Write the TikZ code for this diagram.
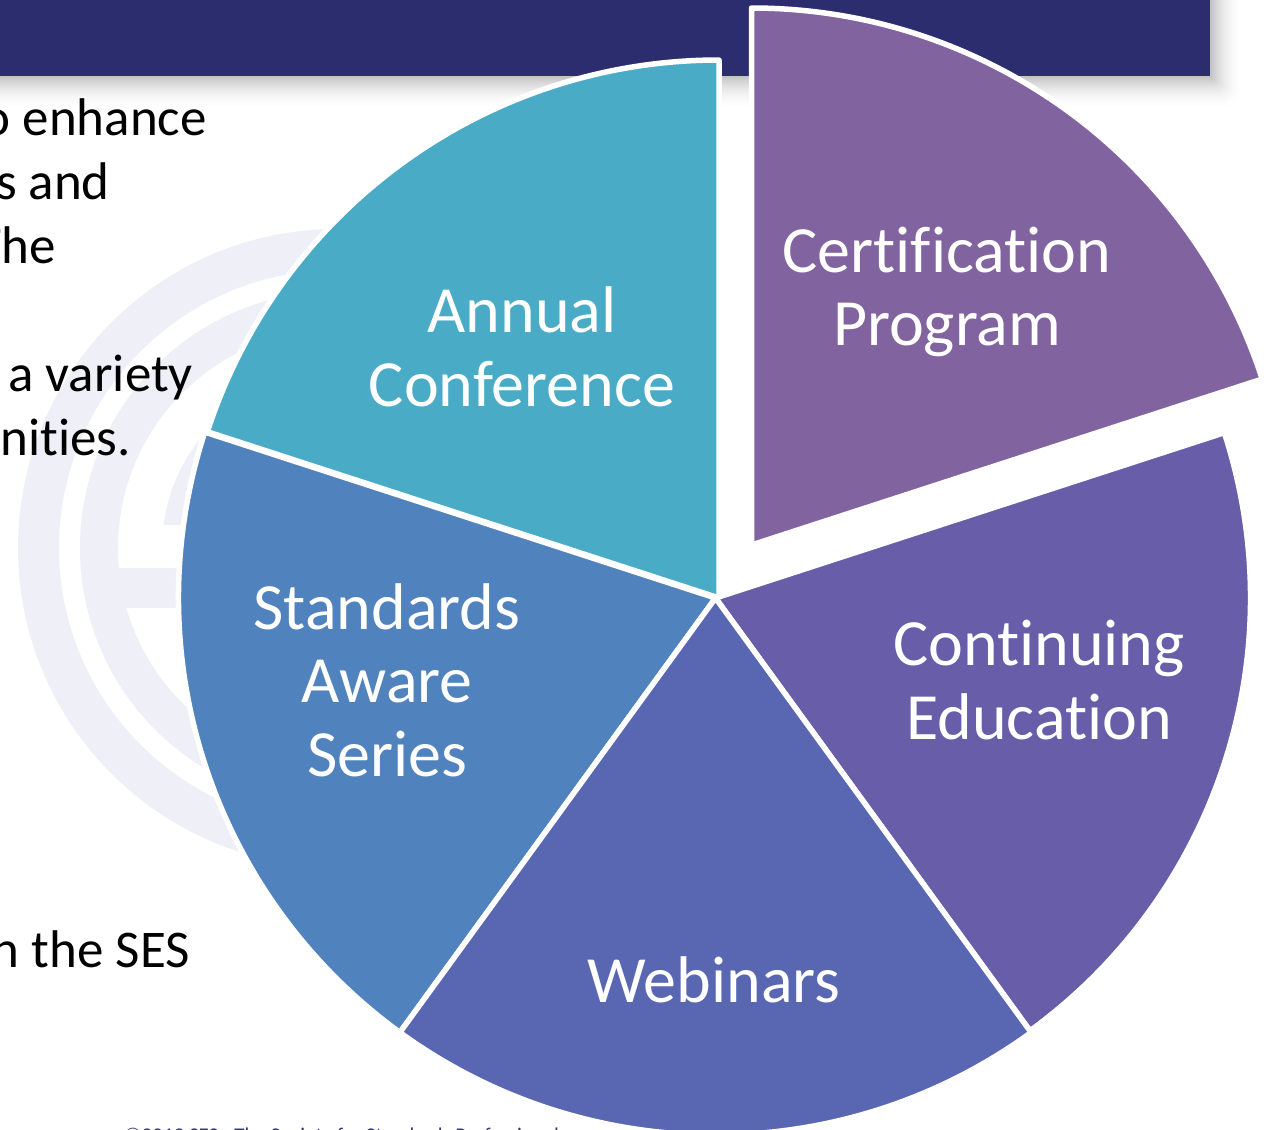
\documentclass[tikz,border=0pt]{standalone}
\usepackage{fontspec}
\setmainfont{Carlito}[Ligatures=NoCommon]
\definecolor{barnavy}{HTML}{2B2D6F}
\definecolor{markc}{HTML}{EFEFF7}
\definecolor{certc}{HTML}{81649F}
\definecolor{contc}{HTML}{675DA9}
\definecolor{webc}{HTML}{5967B3}
\definecolor{stdc}{HTML}{5083BD}
\definecolor{annc}{HTML}{4AABC6}
\definecolor{footc}{HTML}{3A3A6A}
\newcommand{\pieslice}[5]{% colour, cx, cy, start angle (math, flipped), radius
  \path[sliceedge,fill=#1] (#2,#3) -- ++(#4:#5pt) arc[start angle=#4,delta angle=72,radius=#5pt] -- cycle;}
\tikzset{
  sliceedge/.style={draw=white,line width=5.5pt,line join=round},
  slicelabel/.style={text=white,align=center,font=\fontsize{66}{73.5}\selectfont,inner sep=0pt},
  bodytext/.style={text=black,anchor=base east,font=\fontsize{53}{58}\selectfont,inner sep=0pt},
  footertext/.style={text=footc,anchor=base west,font=\fontsize{21}{24}\selectfont,inner sep=0pt}
}
\begin{document}
\begin{tikzpicture}[x=1pt,y=1pt,yscale=-1]
\clip (0,0) rectangle (1264,1130);
\fill[white] (0,0) rectangle (1264,1130);
% header shadow
\foreach \i in {16,15,...,0}{
  \pgfmathsetmacro{\c}{26*(1-\i/17)*(1-\i/17)}
  \fill[black!\c!white,rounded corners=\i*1pt] (-40,-40) rectangle ({1210+2*\i},{76+2*\i});
}
\fill[barnavy] (-40,-40) rectangle (1210,76);
% watermark
\fill[markc,even odd rule] (337,548) circle[radius=319pt] (337,548) circle[radius=278pt];
\fill[markc,even odd rule] (337,548) circle[radius=257pt] (337,548) circle[radius=219pt];
\fill[markc] (112,568) rectangle (230,608);
\begin{scope}
  \clip (100,300) rectangle (400,524);
  \fill[markc,even odd rule] (337,548) circle[radius=175pt] (337,548) circle[radius=135pt];
\end{scope}
% body text
\node[bodytext] (t1) at (207,135) {o enhance};
\node[bodytext] (t2) at (110,199) {s and};
\node[bodytext] (t3) at (56,263) {The};
\node[bodytext] (t4) at (193,391) {a variety};
\node[bodytext] (t5) at (131,455) {nities.};
\node[bodytext] (t6) at (190,967) {n the SES};
\node[footertext] (foot) at (124,1142) {©2019 SES - The Society for Standards Professionals};
% pie
\pieslice{annc}{719}{598}{-162}{538}
\pieslice{stdc}{715.5}{598}{126}{537}
\pieslice{contc}{715.5}{598}{-18}{535}
\pieslice{webc}{715.5}{598}{54}{537}
\pieslice{certc}{751.5}{545}{-90}{537}
% labels
\node[slicelabel] (cert) at (947,292) {Certification\\Program};
\node[slicelabel] (cont) at (1039,680) {Continuing\\Education};
\node[slicelabel] (web) at (714,980) {Webinars};
\node[slicelabel] (std) at (387,680) {Standards\\Aware\\Series};
\node[slicelabel] (ann) at (522,347) {Annual\\Conference};
\end{tikzpicture}
\end{document}
